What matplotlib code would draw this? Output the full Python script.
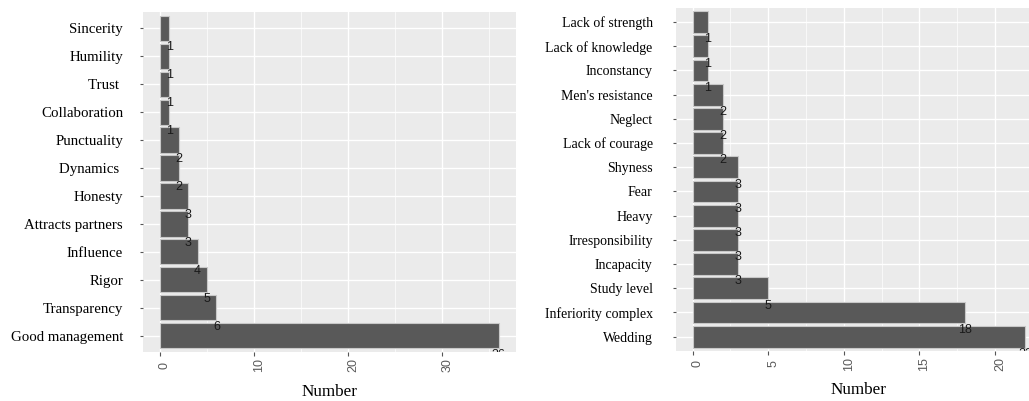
import matplotlib
matplotlib.use("Agg")
import matplotlib.pyplot as plt
from matplotlib.transforms import ScaledTranslation
from matplotlib.ticker import FixedLocator

# ---------------- data ----------------
left_categories = ["Sincerity", "Humility", "Trust ", "Collaboration", "Punctuality",
                   "Dynamics ", "Honesty", "Attracts partners", "Influence", "Rigor",
                   "Transparency", "Good management"]
left_values = [1, 1, 1, 1, 2, 2, 3, 3, 4, 5, 6, 36]
left_xticks = [0, 10, 20, 30]
left_xminor = [5, 15, 25, 35]

right_categories = ["Lack of strength", "Lack of knowledge", "Inconstancy", "Men's resistance",
                    "Neglect", "Lack of courage", "Shyness", "Fear", "Heavy",
                    "Irresponsibility", "Incapacity", "Study level", "Inferiority complex",
                    "Wedding"]
right_values = [1, 1, 1, 2, 2, 2, 3, 3, 3, 3, 3, 5, 18, 22]
right_xticks = [0, 5, 10, 15, 20]
right_xminor = [2.5, 7.5, 12.5, 17.5, 22.5]

x_label = "Number"

# ---------------- style ----------------
W, H = 1029, 401
fig = plt.figure(figsize=(W / 100, H / 100), dpi=100)

PANEL_BG = "#EBEBEB"
BAR = "#595959"
SERIF = "Liberation Serif"
SANS = "Liberation Sans"


def px_box(x0, y0, x1, y1):
    return [x0 / W, 1 - y1 / H, (x1 - x0) / W, (y1 - y0) / H]


def draw(ax, cats, vals, xticks, xminor, xlim, ylab_size, ylab_pad, xlab_y):
    n = len(cats)
    pos = list(range(n))
    ax.set_facecolor(PANEL_BG)
    for s in ax.spines.values():
        s.set_visible(False)
    ax.set_axisbelow(True)
    ax.barh(pos, vals, height=0.9, color=BAR, edgecolor="#c8c8c8", linewidth=0.8, zorder=2)
    ax.set_xlim(*xlim)
    ax.set_ylim(n - 1 + 0.58, -0.58)
    ax.set_yticks(pos)
    ax.set_yticklabels(cats, fontfamily=SERIF, fontsize=ylab_size, color="black")
    ax.xaxis.set_major_locator(FixedLocator(xticks))
    ax.xaxis.set_minor_locator(FixedLocator(xminor))
    ax.set_xticklabels([str(t) for t in xticks], rotation=90, va="center", ha="center",
                       fontfamily=SANS, fontsize=9, color="#5a5a5a")
    ax.grid(which="major", color="white", linewidth=1.0, zorder=0)
    ax.grid(which="minor", axis="x", color="white", linewidth=0.5, zorder=0)
    ax.tick_params(axis="y", length=2.2, width=0.8, color="#555555", pad=ylab_pad)
    ax.tick_params(axis="x", which="major", length=2.8, width=0.8, color="#555555", pad=6.6)
    ax.tick_params(axis="x", which="minor", length=0)
    off = ScaledTranslation(5 / 100, 0, fig.dpi_scale_trans)
    for lab in ax.get_xticklabels():
        lab.set_transform(lab.get_transform() + off)
    for p, v in zip(pos, vals):
        ax.text(v, p + 0.47, str(v), ha="center", va="top", fontfamily=SANS,
                fontsize=9, color="#1a1a1a", clip_on=True, zorder=3)
    ax.set_xlabel(x_label, fontfamily=SERIF, fontsize=12.3, va="center")
    ax.xaxis.set_label_coords(0.5, xlab_y)


ax1 = fig.add_axes(px_box(143, 12, 515.7, 352))
draw(ax1, left_categories, left_values, left_xticks, left_xminor, (-1.8, 37.8),
     10.7, 12.2, -40 / 340)

ax2 = fig.add_axes(px_box(676, 8, 1042, 350.7))
draw(ax2, right_categories, right_values, right_xticks, right_xminor, (-1.1, 23.1),
     10.0, 14.6, -39.3 / 342.7)

fig.savefig("out.png", dpi=100, facecolor="white")
